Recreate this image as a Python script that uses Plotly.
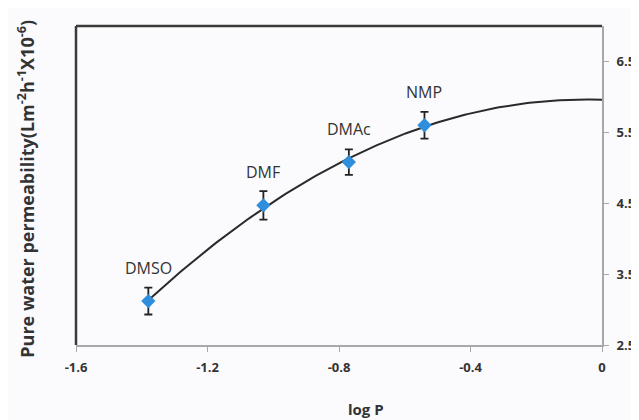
import numpy as np
import plotly.graph_objects as go

solvents = ["DMSO", "DMF", "DMAc", "NMP"]
log_p = [-1.38, -1.03, -0.77, -0.54]
permeability = [3.12, 4.47, 5.08, 5.60]
error = [0.19, 0.20, 0.18, 0.19]
y_ticks = [2.5, 3.5, 4.5, 5.5, 6.5]
x_ticks = [-1.6, -1.2, -0.8, -0.4, 0]
x_tick_text = ["-1.6", "-1.2", "-0.8", "-0.4", "0"]

# second-order polynomial trendline fitted to the data
coef = np.polyfit(log_p, permeability, 2)
xs = np.linspace(min(log_p), 0, 120)
ys = np.polyval(coef, xs)

fig = go.Figure()
fig.add_trace(go.Scatter(x=xs, y=ys, mode="lines",
                         line=dict(color="#2a2a2a", width=2), hoverinfo="skip"))
fig.add_trace(go.Scatter(
    x=log_p, y=permeability, mode="markers",
    marker=dict(symbol="diamond", size=11, color="#2f8fdc"),
    error_y=dict(type="data", array=error, color="#222222", thickness=1.8, width=4)))

for s, xv, yv in zip(solvents, log_p, permeability):
    fig.add_annotation(x=xv, y=yv, text=s, showarrow=False, yshift=33,
                       font=dict(family="Open Sans", size=16, color="#333333"))

fig.add_annotation(xref="paper", yref="paper", x=-0.095, y=0.49,
                   text="Pure water permeability(Lm<sup>-2</sup>h<sup>-1</sup>X10<sup>-6</sup>)",
                   textangle=-90, showarrow=False, xanchor="center", yanchor="middle",
                   font=dict(family="Open Sans", size=18, color="#333333", weight="bold"))
fig.add_annotation(xref="paper", yref="paper", x=0.551, y=-0.2, text="log P",
                   showarrow=False, xanchor="center", yanchor="middle",
                   font=dict(family="Open Sans", size=15, color="#333333", weight="bold"))

# dark frame on left and top
fig.add_shape(type="line", xref="paper", yref="paper", x0=0, x1=0, y0=0, y1=1,
              line=dict(color="#3a3a3a", width=2.5))
fig.add_shape(type="line", xref="paper", yref="paper", x0=0, x1=1, y0=1, y1=1,
              line=dict(color="#3a3a3a", width=2.5))

fig.update_layout(
    width=639, height=420,
    margin=dict(l=68, r=43, t=18, b=83),
    paper_bgcolor="#fbfbfd", plot_bgcolor="#fbfbfd",
    showlegend=False,
    font=dict(family="Open Sans", color="#333333"),
    xaxis=dict(range=[-1.6, 0], tickvals=x_ticks, ticktext=x_tick_text,
               showgrid=False, zeroline=False, showline=True, linecolor="#a8a8a8", linewidth=2,
               ticks="outside", ticklen=5, tickcolor="#a8a8a8",
               tickfont=dict(size=13, weight="bold", color="#333333"), ticklabelstandoff=4),
    yaxis=dict(range=[2.5, 7.0], side="right", tickvals=y_ticks,
               showgrid=False, zeroline=False, showline=True, linecolor="#a8a8a8", linewidth=2,
               ticks="outside", ticklen=5, tickcolor="#a8a8a8",
               tickfont=dict(size=13, weight="bold", color="#333333"), ticklabelstandoff=5),
)

fig.write_html("out.html")
